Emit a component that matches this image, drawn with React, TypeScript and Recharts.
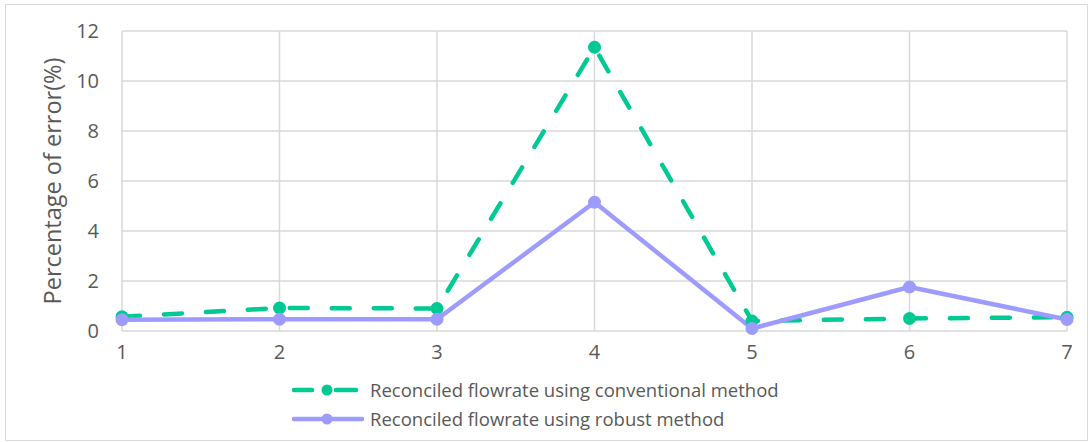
import React from 'react';
import { LineChart, Line, XAxis, YAxis, CartesianGrid, Legend } from 'recharts';

const steps = [1, 2, 3, 4, 5, 6, 7];
const conventional = [0.57, 0.92, 0.9, 11.35, 0.4, 0.5, 0.55];
const robust = [0.45, 0.47, 0.47, 5.15, 0.1, 1.76, 0.46];
const yTicks = [0, 2, 4, 6, 8, 10, 12];

const GREEN = '#00c994';
const PURPLE = '#9e9bff';
const TEXT = '#595959';
const FONT = '"Open Sans", sans-serif';

const data = steps.map((s, i) => ({ step: s, conventional: conventional[i], robust: robust[i] }));

const LegendBox = () => (
  <div style={{ paddingLeft: 292, fontFamily: FONT, fontSize: 18.5, color: TEXT }}>
    <div style={{ display: 'flex', alignItems: 'center', height: 29 }}>
      <svg width={72} height={14} style={{ marginRight: 6 }}>
        <line x1={2} y1={7} x2={20} y2={7} stroke={GREEN} strokeWidth={4.5} strokeLinecap="round" />
        <circle cx={35} cy={7} r={5.5} fill={GREEN} />
        <line x1={44} y1={7} x2={64} y2={7} stroke={GREEN} strokeWidth={4.5} strokeLinecap="round" />
      </svg>
      <span>Reconciled flowrate using conventional method</span>
    </div>
    <div style={{ display: 'flex', alignItems: 'center', height: 29 }}>
      <svg width={72} height={14} style={{ marginRight: 6 }}>
        <line x1={2} y1={7} x2={70} y2={7} stroke={PURPLE} strokeWidth={4.5} strokeLinecap="round" />
        <circle cx={35} cy={7} r={5.5} fill={PURPLE} />
      </svg>
      <span>Reconciled flowrate using robust method</span>
    </div>
  </div>
);

export default function App() {
  return (
    <div style={{ position: 'absolute', left: 0, top: 0, width: 1092, height: 442, background: '#fff' }}>
      <div
        style={{
          position: 'absolute',
          left: 5,
          top: 4,
          width: 1081,
          height: 435,
          border: '1px solid #d9d9d9',
        }}
      />
      <LineChart
        width={1092}
        height={442}
        data={data}
        margin={{ top: 31, right: 25, left: 0, bottom: 0 }}
        style={{ fontFamily: FONT }}
      >
        <CartesianGrid stroke="#d9d9d9" strokeWidth={1.5} />
        <XAxis
          dataKey="step"
          type="number"
          domain={[1, 7]}
          ticks={steps}
          axisLine={false}
          tickLine={false}
          tickSize={0}
          tickMargin={14}
          height={44}
          tick={{ fill: TEXT, fontSize: 20 }}
        />
        <YAxis
          domain={[0, 12]}
          ticks={yTicks}
          axisLine={false}
          tickLine={false}
          tickSize={0}
          tickMargin={23}
          width={122}
          tick={{ fill: TEXT, fontSize: 20 }}
          label={{
            value: 'Percentage of error(%)',
            angle: -90,
            position: 'center',
            dx: -8,
            fill: TEXT,
            fontSize: 23.5,
          }}
        />
        <Legend
          verticalAlign="bottom"
          content={<LegendBox />}
          wrapperStyle={{ left: 0, width: 1092, height: 67 }}
        />
        <Line
          dataKey="conventional"
          stroke={GREEN}
          strokeWidth={4.5}
          strokeDasharray="18 24"
          strokeLinecap="round"
          dot={{ r: 6.5, fill: GREEN, stroke: GREEN, strokeWidth: 0, strokeDasharray: '' }}
          isAnimationActive={false}
        />
        <Line
          dataKey="robust"
          stroke={PURPLE}
          strokeWidth={4.5}
          strokeLinecap="round"
          strokeLinejoin="round"
          dot={{ r: 6.5, fill: PURPLE, stroke: PURPLE, strokeWidth: 0 }}
          isAnimationActive={false}
        />
      </LineChart>
    </div>
  );
}
